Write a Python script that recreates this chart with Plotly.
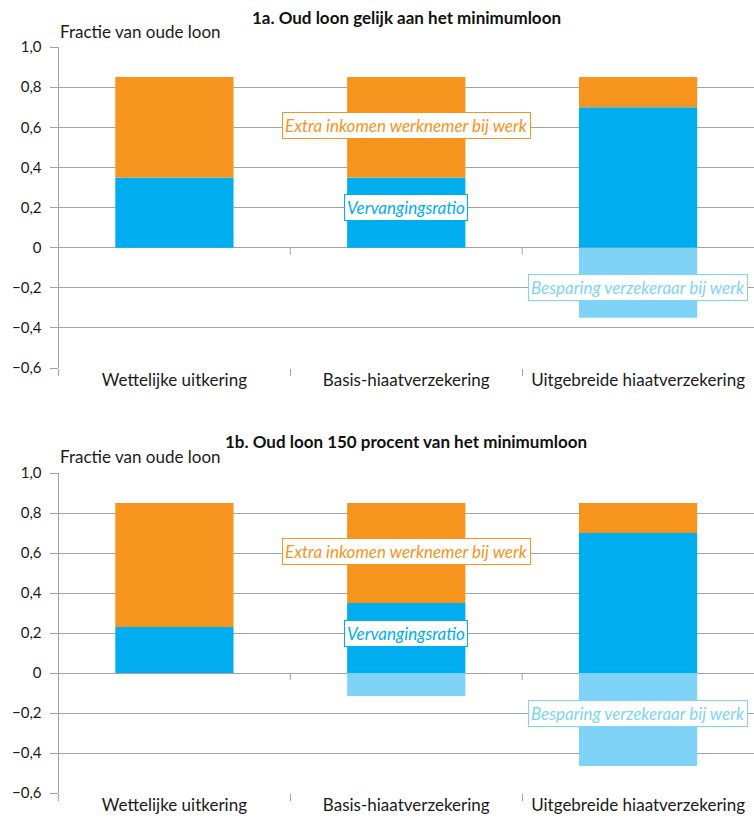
import plotly.graph_objects as go

categories = ["Wettelijke uitkering", "Basis-hiaatverzekering", "Uitgebreide hiaatverzekering"]

# Panel 1a
a_vervangingsratio = [0.35, 0.35, 0.70]
a_extra_inkomen = [0.50, 0.50, 0.15]
a_besparing = [0.0, 0.0, -0.35]

# Panel 1b
b_vervangingsratio = [0.23, 0.35, 0.70]
b_extra_inkomen = [0.62, 0.50, 0.15]
b_besparing = [0.0, -0.115, -0.465]

tick_vals = [1.0, 0.8, 0.6, 0.4, 0.2, 0, -0.2, -0.4, -0.6]
tick_text = ["1,0", "0,8", "0,6", "0,4", "0,2", "0", "\u22120,2", "\u22120,4", "\u22120,6"]

titles = ["1a. Oud loon gelijk aan het minimumloon", "1b. Oud loon 150 procent van het minimumloon"]

BLUE = "#00AEEF"
ORANGE = "#F7941D"
LIGHT = "#7FD3F7"
GRID = "#a3a3a3"
FONT = "Lato"
W, H = 754, 821

fig = go.Figure()

panels = [
    (a_vervangingsratio, a_extra_inkomen, a_besparing),
    (b_vervangingsratio, b_extra_inkomen, b_besparing),
]
# pixel layout of each plot area (top, bottom)
px_areas = [(47, 368), (473, 793)]
title_px = [18, 442]
ylabel_px = [31, 456]

for i, (vr, ex, bs) in enumerate(panels):
    xa = "x" if i == 0 else "x2"
    ya = "y" if i == 0 else "y2"
    common = dict(x=categories, xaxis=xa, yaxis=ya, width=0.51, showlegend=False,
                  marker_line_width=0, hoverinfo="skip")
    fig.add_trace(go.Bar(y=vr, marker_color=BLUE, **common))
    fig.add_trace(go.Bar(y=ex, marker_color=ORANGE, **common))
    fig.add_trace(go.Bar(y=bs, marker_color=LIGHT, **common))

    top, bot = px_areas[i]
    dom = [1 - bot / H, 1 - top / H]
    xkey = "xaxis" if i == 0 else "xaxis2"
    ykey = "yaxis" if i == 0 else "yaxis2"
    fig.update_layout(**{
        xkey: dict(domain=[58.5 / W, 1.0], anchor=ya, range=[-0.5, 2.5], automargin=False,
                   tickson="boundaries", ticks="outside", ticklen=7, tickcolor=GRID,
                   showgrid=False, showline=False, zeroline=False,
                   tickfont=dict(family=FONT, size=17, color="#1a1a1a")),
        ykey: dict(domain=dom, anchor=xa, range=[-0.6, 1.0], automargin=False,
                   tickvals=tick_vals, ticktext=tick_text,
                   ticks="outside", ticklen=8, tickcolor=GRID, ticklabelstandoff=5,
                   showgrid=True, gridcolor=GRID, gridwidth=1,
                   zeroline=False, showline=True, linecolor=GRID, linewidth=1,
                   tickfont=dict(family=FONT, size=15, color="#1a1a1a")),
    })

    # small ticks at category boundaries on the zero line
    for xb in [0.5, 1.5]:
        fig.add_shape(type="line", xref=xa, yref=ya, x0=xb, x1=xb, y0=0, y1=-0.035,
                      line=dict(color=GRID, width=1))

    # panel title
    fig.add_annotation(text="<b>" + titles[i] + "</b>", xref="paper", yref="paper",
                       x=(58.5 + 754) / 2 / W, y=1 - title_px[i] / H, showarrow=False,
                       xanchor="center", yanchor="middle",
                       font=dict(family=FONT, size=17, color="#111", weight=900))
    # y label
    fig.add_annotation(text="Fractie van oude loon", xref="paper", yref="paper",
                       x=58 / W, y=1 - ylabel_px[i] / H, showarrow=False,
                       xanchor="left", yanchor="middle",
                       font=dict(family=FONT, size=17, color="#1a1a1a"))

    # series labels
    labels = [
        ("Extra inkomen werknemer bij werk", 1.0, 0.61, ORANGE),
        ("Vervangingsratio", 1.0, 0.2, BLUE),
        ("Besparing verzekeraar bij werk", 2.0, -0.2, LIGHT),
    ]
    for txt, lx, ly, col in labels:
        fig.add_annotation(text="<i>" + txt + "</i>", xref=xa, yref=ya, x=lx, y=ly,
                           showarrow=False, bgcolor="white", bordercolor=col,
                           borderwidth=1, borderpad=2,
                           font=dict(family=FONT, size=17, color=col))

fig.update_layout(
    barmode="relative",
    bargap=0.49,
    width=W, height=H,
    margin=dict(l=0, r=0, t=0, b=0),
    plot_bgcolor="white", paper_bgcolor="white",
)

fig.write_html("out.html")
